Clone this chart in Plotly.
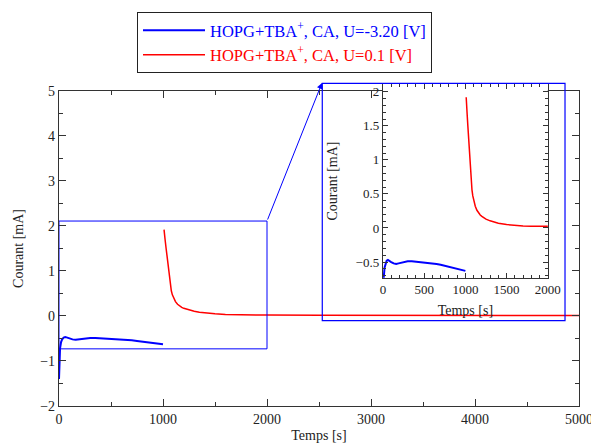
import plotly.graph_objects as go

# ---- data ----
blue_t = [0, 5, 10, 20, 30, 45, 60, 80, 100, 130, 160, 190, 220, 260, 300, 350, 400,
          450, 500, 550, 600, 650, 700, 750, 800, 850, 900, 950, 1000]
blue_i = [-1.40, -0.95, -0.72, -0.58, -0.52, -0.48, -0.47, -0.48, -0.50, -0.52, -0.53,
          -0.52, -0.51, -0.50, -0.49, -0.49, -0.495, -0.50, -0.505, -0.51, -0.515, -0.53,
          -0.54, -0.555, -0.57, -0.585, -0.60, -0.615, -0.63]
red_t = [1010, 1015, 1020, 1030, 1040, 1050, 1060, 1070, 1080, 1090, 1100, 1120, 1140,
         1160, 1180, 1200, 1250, 1300, 1350, 1400, 1500, 1600, 1700, 1800, 2000, 2500,
         3000, 3500, 4000, 4500, 5000]
red_i = [1.92, 1.85, 1.70, 1.50, 1.30, 1.05, 0.85, 0.68, 0.56, 0.47, 0.41, 0.32, 0.26,
         0.22, 0.19, 0.17, 0.13, 0.105, 0.085, 0.07, 0.05, 0.035, 0.03, 0.025, 0.02,
         0.015, 0.012, 0.01, 0.01, 0.01, 0.01]

name_blue = "HOPG+TBA<sup>+</sup>, CA, U=-3.20 [V]"
name_red = "HOPG+TBA<sup>+</sup>, CA, U=0.1 [V]"

main_x_range = [0, 5000]
main_y_range = [-2, 5]
zoom_x_range = [0, 2000]
zoom_y_range = [-0.73, 2.11]

BLUE = "#0000ff"
RED = "#ff0000"
AX = "#333333"
FONT = "Liberation Serif"

fig = go.Figure()
# main
fig.add_trace(go.Scatter(x=blue_t, y=blue_i, mode="lines", line=dict(color=BLUE, width=2),
                         name=f"<span style='color:{BLUE}'>{name_blue}</span>"))
fig.add_trace(go.Scatter(x=red_t, y=red_i, mode="lines", line=dict(color=RED, width=1.5),
                         name=f"<span style='color:{RED}'>{name_red}</span>"))
# inset
fig.add_trace(go.Scatter(x=blue_t, y=blue_i, mode="lines", line=dict(color=BLUE, width=2),
                         xaxis="x2", yaxis="y2", showlegend=False))
fig.add_trace(go.Scatter(x=red_t, y=red_i, mode="lines", line=dict(color=RED, width=1.5),
                         xaxis="x2", yaxis="y2", showlegend=False))

axis_common = dict(showline=True, linecolor=AX, linewidth=1.3, mirror="ticks",
                   ticks="inside", tickcolor=AX, showgrid=False, zeroline=False,
                   ticklabeloverflow="allow",
                   tickfont=dict(family=FONT, size=14, color="#222"))

fig.update_layout(
    width=591, height=445,
    margin=dict(l=59, r=12, t=80, b=39, autoexpand=False),
    paper_bgcolor="white", plot_bgcolor="white",
    font=dict(family=FONT, size=14, color="#222"),
    xaxis=dict(**axis_common, range=main_x_range, dtick=1000, ticklen=7, domain=[0, 1],
               minor=dict(dtick=500, ticklen=4, ticks="inside", tickcolor=AX),
               title=dict(text="Temps [s]", font=dict(family=FONT, size=14), standoff=4)),
    yaxis=dict(**axis_common, range=main_y_range, dtick=1, ticklen=7, domain=[0, 0.9663],
               minor=dict(dtick=0.5, ticklen=4, ticks="inside", tickcolor=AX),
               title=dict(text="Courant [mA]", font=dict(family=FONT, size=14), standoff=13)),
    xaxis2=dict(**{**axis_common, "tickfont": dict(family=FONT, size=13, color="#222")},
                range=zoom_x_range, dtick=500, ticklen=5, domain=[0.623, 0.940], anchor="y2",
                minor=dict(dtick=100, ticklen=3, ticks="inside", tickcolor=AX),
                title=dict(text="Temps [s]", font=dict(family=FONT, size=14), standoff=8)),
    yaxis2=dict(**{**axis_common, "tickfont": dict(family=FONT, size=13, color="#222")},
                range=zoom_y_range, dtick=0.5, ticklen=5, domain=[0.3936, 0.9868], anchor="x2",
                minor=dict(dtick=0.1, ticklen=3, ticks="inside", tickcolor=AX),
                title=dict(text="Courant [mA]", font=dict(family=FONT, size=14), standoff=14)),
    legend=dict(x=0.15, y=1.2086, xanchor="left", yanchor="top",
                bordercolor="#222", borderwidth=1, bgcolor="white",
                font=dict(family=FONT, size=16.5), itemwidth=62, tracegroupgap=0),
    showlegend=True,
)

# zoom rectangle in main axes
fig.add_shape(type="rect", xref="x", yref="y", x0=zoom_x_range[0], x1=zoom_x_range[1],
              y0=zoom_y_range[0], y1=zoom_y_range[1], line=dict(color=BLUE, width=1))
# inset frame
fig.add_shape(type="rect", xref="paper", yref="paper", x0=0.5063, x1=0.9731,
              y0=0.2617, y1=0.9899, line=dict(color=BLUE, width=1.2), layer="above")
# arrow from zoom rectangle corner to inset frame
fig.add_annotation(xref="x", yref="y", x=2529, y=5.18, axref="x", ayref="y",
                   ax=zoom_x_range[1], ay=zoom_y_range[1], text="", showarrow=True,
                   arrowhead=2, arrowsize=1.2, arrowwidth=1, arrowcolor=BLUE)

fig.write_html("out.html", config={"displayModeBar": False},
               post_script="document.body.style.margin='0';")
